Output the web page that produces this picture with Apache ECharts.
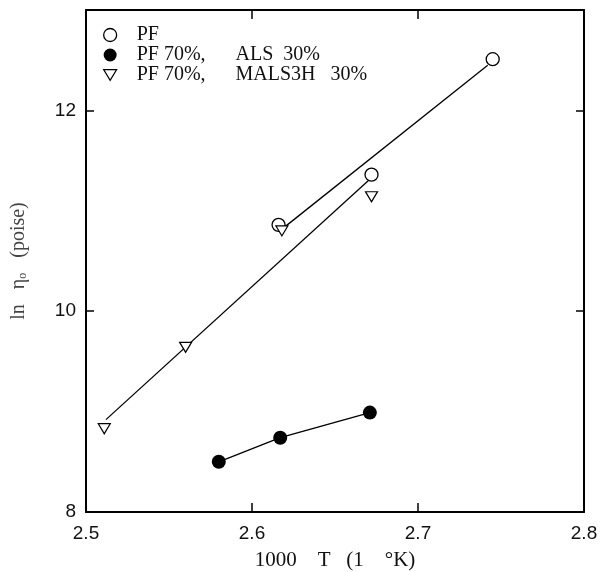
<!DOCTYPE html>
<html>
<head>
<meta charset="utf-8">
<script src="https://cdn.jsdelivr.net/npm/echarts@6/dist/echarts.min.js"></script>
<style>
  html, body { margin: 0; padding: 0; background: #fff; }
  #chart { width: 600px; height: 572px; }
</style>
</head>
<body>
<div id="chart"></div>
<script>
// Measured points: x = 1000/T, y = ln(eta0)
const pfX = [2.616, 2.672, 2.745];
const pfY = [10.86, 11.36, 12.51];
const alsX = [2.580, 2.617, 2.671];
const alsY = [8.50, 8.74, 8.99];
const malsX = [2.511, 2.560, 2.618, 2.672];
const malsY = [8.83, 9.64, 10.80, 11.14];

// End points of the straight fitted lines
const pfFitX = [2.619, 2.742];
const pfFitY = [10.83, 12.45];
const malsFitX = [2.512, 2.670];
const malsFitY = [8.92, 11.30];

// Axis ticks
const xTicks = [2.5, 2.6, 2.7, 2.8];
const yTicks = [8, 10, 12];

const seriesNames = ['PF', 'PF 70%,      ALS  30%', 'PF 70%,      MALS3H   30%'];

const pairs = (xs, ys) => xs.map((x, i) => [x, ys[i]]);
const triangle = 'path://M0,0L12,0L6,10Z';
const serif = 'Liberation Serif';
const sans = 'Liberation Sans';

const axisLineStyle = { color: '#000', width: 2 };
const tickStyle = { color: '#000', width: 1.5 };

const chart = echarts.init(document.getElementById('chart'), null, { renderer: 'canvas' });

chart.setOption({
  backgroundColor: '#fff',
  animation: false,
  grid: { left: 86, right: 16, top: 10, bottom: 60, outerBoundsMode: 'none', containLabel: false },
  legend: {
    orient: 'vertical',
    left: 98,
    top: 20,
    itemWidth: 13,
    itemHeight: 13,
    itemGap: 0,
    selectedMode: false,
    formatter: n => '   ' + n,
    textStyle: { fontFamily: serif, fontSize: 20, color: '#111', lineHeight: 20 },
    data: [
      { name: seriesNames[0], icon: 'circle', itemStyle: { color: '#fff', borderColor: '#000', borderWidth: 1.3 } },
      { name: seriesNames[1], icon: 'circle', itemStyle: { color: '#000', borderColor: '#000', borderWidth: 0 } },
      { name: seriesNames[2], icon: triangle, itemStyle: { color: '#fff', borderColor: '#000', borderWidth: 1.2 } }
    ]
  },
  xAxis: [
    {
      type: 'value', position: 'bottom', min: 2.5, max: 2.8, interval: 0.1,
      axisLine: { show: true, onZero: false, lineStyle: axisLineStyle },
      axisTick: { show: true, inside: true, length: 9, lineStyle: tickStyle },
      axisLabel: {
        margin: 12, fontFamily: sans, fontSize: 19, color: '#111',
        formatter: v => (xTicks.some(t => Math.abs(t - v) < 1e-6) ? v.toFixed(1) : '')
      },
      splitLine: { show: false },
      name: '1000    T   (1    °K)',
      nameLocation: 'middle',
      nameGap: 38,
      nameTextStyle: { fontFamily: serif, fontSize: 21, color: '#111' }
    },
    {
      type: 'value', position: 'top', min: 2.5, max: 2.8, interval: 0.1,
      axisLine: { show: true, onZero: false, lineStyle: axisLineStyle },
      axisTick: { show: true, inside: true, length: 9, lineStyle: tickStyle },
      axisLabel: { show: false },
      splitLine: { show: false }
    }
  ],
  yAxis: [
    {
      type: 'value', position: 'left', min: 8, max: 13, interval: 2,
      axisLine: { show: true, onZero: false, lineStyle: axisLineStyle },
      axisTick: { show: true, inside: true, length: 8, lineStyle: tickStyle },
      axisLabel: {
        margin: 10, fontFamily: sans, fontSize: 19, color: '#111',
        formatter: v => (yTicks.includes(v) ? String(v) : '')
      },
      splitLine: { show: false },
      name: 'ln   η{s|o}   (poise)',
      nameLocation: 'middle',
      nameGap: 57,
      nameTextStyle: {
        fontFamily: serif, fontSize: 20, color: '#444',
        rich: { s: { fontFamily: serif, fontSize: 12, color: '#444', verticalAlign: 'bottom', lineHeight: 14 } }
      }
    },
    {
      type: 'value', position: 'right', min: 8, max: 13, interval: 2,
      axisLine: { show: true, onZero: false, lineStyle: axisLineStyle },
      axisTick: { show: true, inside: true, length: 8, lineStyle: tickStyle },
      axisLabel: { show: false },
      splitLine: { show: false }
    }
  ],
  series: [
    {
      name: 'pf-fit', type: 'line', data: pairs(pfFitX, pfFitY), symbol: 'none',
      lineStyle: { color: '#000', width: 1.3 }, z: 2, silent: true
    },
    {
      name: 'mals-fit', type: 'line', data: pairs(malsFitX, malsFitY), symbol: 'none',
      lineStyle: { color: '#000', width: 1.3 }, z: 2, silent: true
    },
    {
      name: 'als-line', type: 'line', data: pairs(alsX, alsY), symbol: 'none',
      lineStyle: { color: '#000', width: 1.3 }, z: 2, silent: true
    },
    {
      name: seriesNames[0], type: 'scatter', data: pairs(pfX, pfY),
      symbol: 'circle', symbolSize: 13,
      itemStyle: { color: '#fff', borderColor: '#000', borderWidth: 1.3, opacity: 1 }, z: 5
    },
    {
      name: seriesNames[1], type: 'scatter', data: pairs(alsX, alsY),
      symbol: 'circle', symbolSize: 14,
      itemStyle: { color: '#000', opacity: 1 }, z: 5
    },
    {
      name: seriesNames[2], type: 'scatter', data: pairs(malsX, malsY),
      symbol: triangle, symbolSize: [12, 10],
      itemStyle: { color: '#fff', borderColor: '#000', borderWidth: 1.2, opacity: 1 }, z: 5
    }
  ]
});
</script>
</body>
</html>
